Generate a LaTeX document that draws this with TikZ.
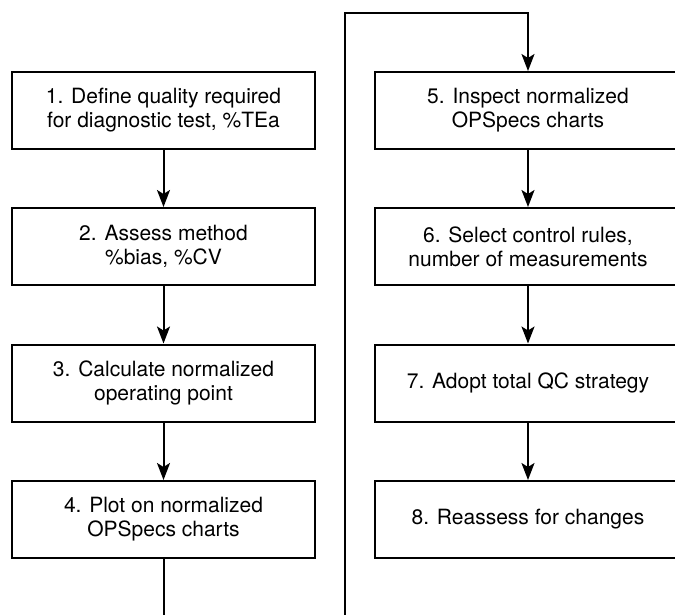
\documentclass[tikz,border=0pt]{standalone}
\usepackage{fontspec}
\setmainfont{TeX Gyre Heros}
\usetikzlibrary{arrows.meta}
\begin{document}
\begin{tikzpicture}[x=1pt,y=-1pt,
  stepbox/.style={draw, line width=2pt, minimum height=77pt, inner sep=0pt,
    align=center, font=\fontsize{21}{24}\selectfont},
  leftbox/.style={stepbox, minimum width=303pt},
  rightbox/.style={stepbox, minimum width=306pt},
  flow/.style={line width=2pt, -{Stealth[length=17pt, width=13pt, inset=4pt]}},
  link/.style={line width=2pt}]
\useasboundingbox (0,0) rectangle (675,614);
\clip (0,0) rectangle (675,614);
% left column
\node[leftbox] (b1) at (163.5,110.5) {1. Define quality required\\for diagnostic test, \%TEa};
\node[leftbox] (b2) at (163.5,246.5) {2. Assess method\\\%bias, \%CV};
\node[leftbox] (b3) at (163.5,383) {3. Calculate normalized\\operating point};
\node[leftbox] (b4) at (163.5,519.5) {4. Plot on normalized\\OPSpecs charts};
% right column
\node[rightbox] (b5) at (528,110.5) {5. Inspect normalized\\OPSpecs charts};
\node[rightbox] (b6) at (528,246.5) {6. Select control rules,\\number of measurements};
\node[rightbox] (b7) at (528,383) {7. Adopt total QC strategy};
\node[rightbox] (b8) at (528,519.5) {8. Reassess for changes};
% connectors
\draw[flow] (b1) -- (b2);
\draw[flow] (b2) -- (b3);
\draw[flow] (b3) -- (b4);
\draw[flow] (b5) -- (b6);
\draw[flow] (b6) -- (b7);
\draw[flow] (b7) -- (b8);
\coordinate (down) at (163.5,630);
\coordinate (up) at (345,630);
\coordinate (turn) at (345,12.7);
\draw[link] (b4.south) -- (down);
\draw[flow] (up) -- (turn) -| (b5.north);
\end{tikzpicture}
\end{document}
